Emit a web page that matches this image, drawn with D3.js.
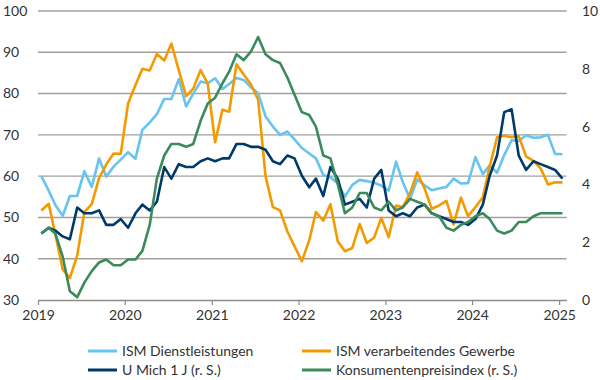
<!DOCTYPE html>
<html>
<head>
<meta charset="utf-8">
<script src="https://cdn.jsdelivr.net/npm/d3@7"></script>
<style>
  body { margin: 0; background: #fff; }
  text { font-family: Lato, "Open Sans", sans-serif; fill: #333; }
</style>
</head>
<body>
<svg id="chart" width="600" height="380"></svg>
<script>
// monthly values, first point plotted at Jan 2019
var ismServices = [60.0, 56.5, 53.0, 50.4, 55.2, 55.2, 61.2, 57.4, 64.3, 59.9, 62.3, 64.0,
  65.8, 64.2, 71.2, 73.0, 75.0, 78.7, 78.7, 83.5, 76.9, 80.0, 82.9, 82.5,
  83.7, 81.1, 82.3, 83.8, 83.3, 81.5, 80.1, 74.5, 72.0, 70.0, 70.8, 68.9,
  66.8, 65.5, 64.3, 60.3, 59.7, 58.3, 55.0, 57.9, 59.1, 58.8, 58.4, 57.7,
  56.5, 63.5, 58.6, 54.5, 59.2, 57.8, 56.6, 57.0, 57.4, 59.4, 58.2, 58.3,
  64.6, 60.5, 62.6, 60.8, 65.1, 68.7, 68.5, 69.9, 69.3, 69.4, 70.0, 65.4, 65.3];
var ismManufacturing = [51.7, 53.3, 45.9, 37.4, 35.3, 40.8, 51.3, 53.2, 59.5, 62.8, 65.5, 65.4,
  77.6, 82.1, 86.0, 85.6, 89.6, 88.0, 92.1, 85.7, 79.4, 81.2, 85.7, 82.4,
  68.2, 76.1, 75.6, 87.1, 84.6, 82.2, 78.5, 60.0, 52.5, 51.7, 46.6, 43.0,
  39.4, 44.5, 51.3, 49.2, 53.2, 44.2, 41.8, 42.6, 48.4, 43.8, 45.1, 49.9,
  45.2, 52.9, 52.5, 55.8, 60.9, 57.0, 52.1, 52.9, 54.0, 48.3, 54.8, 50.3,
  52.5, 54.9, 62.4, 69.4, 69.8, 69.4, 69.7, 64.8, 63.7, 61.9, 58.0, 58.5, 58.5];
var uMich1y = [2.3, 2.5, 2.4, 2.2, 2.1, 3.2, 3.0, 3.0, 3.1, 2.6, 2.6, 2.8,
  2.5, 3.0, 3.3, 3.1, 3.4, 4.6, 4.2, 4.7, 4.6, 4.6, 4.8, 4.9,
  4.8, 4.9, 4.9, 5.4, 5.4, 5.3, 5.3, 5.2, 4.8, 4.7, 5.0, 4.9,
  4.3, 3.9, 4.2, 3.6, 4.6, 4.2, 3.3, 3.4, 3.5, 3.2, 4.2, 4.5,
  3.1, 2.9, 3.0, 2.9, 3.2, 3.3, 3.0, 2.9, 2.8, 2.7, 2.7, 2.6,
  2.8, 3.3, 4.3, 5.0, 6.5, 6.6, 5.0, 4.5, 4.8, 4.7, 4.6, 4.5, 4.2];
var cpi = [2.3, 2.5, 2.3, 1.5, 0.3, 0.1, 0.6, 1.0, 1.3, 1.4, 1.2, 1.2,
  1.4, 1.4, 1.7, 2.6, 4.2, 5.0, 5.4, 5.4, 5.3, 5.4, 6.2, 6.8,
  7.0, 7.5, 7.9, 8.5, 8.3, 8.6, 9.1, 8.5, 8.3, 8.2, 7.7, 7.1,
  6.5, 6.4, 6.0, 5.0, 4.9, 4.0, 3.0, 3.2, 3.7, 3.7, 3.2, 3.1,
  3.4, 3.1, 3.2, 3.5, 3.4, 3.3, 3.0, 2.9, 2.5, 2.4, 2.6, 2.7,
  2.9, 3.0, 2.8, 2.4, 2.3, 2.4, 2.7, 2.7, 2.9, 3.0, 3.0, 3.0, 3.0];

var years = [2019, 2020, 2021, 2022, 2023, 2024, 2025];
var leftTicks = [30, 40, 50, 60, 70, 80, 90, 100];
var rightTicks = [0, 2, 4, 6, 8, 10];

var seriesNames = ["ISM Dienstleistungen", "ISM verarbeitendes Gewerbe", "U Mich 1 J (r. S.)", "Konsumentenpreisindex (r. S.)"];
var seriesColors = ["#66c4ef", "#f39a00", "#003a6a", "#3a8a5a"];

var svg = d3.select("#chart");
var plotLeft = 38, plotRight = 566.5, plotTop = 11, plotBottom = 300;
var fontSize = 14;

var x = d3.scaleTime()
  .domain([new Date(2019, 0, 1), new Date(2025, 1, 1)])
  .range([plotLeft, plotRight]);
var yL = d3.scaleLinear().domain([30, 100]).range([plotBottom, plotTop]);
var yR = d3.scaleLinear().domain([0, 10]).range([plotBottom, plotTop]);

function dateOf(i) { return new Date(2019, i, 15); }

// gridlines
svg.append("g").selectAll("line")
  .data(leftTicks.slice(1))
  .enter().append("line")
  .attr("x1", plotLeft).attr("x2", plotRight)
  .attr("y1", function(d) { return yL(d); })
  .attr("y2", function(d) { return yL(d); })
  .attr("stroke", "#a3a09a").attr("stroke-width", 1.4);

// x axis
var xAxis = d3.axisBottom(x)
  .tickValues(years.map(function(y) { return new Date(y, 0, 1); }))
  .tickFormat(d3.timeFormat("%Y"))
  .tickSize(5).tickSizeOuter(0).tickPadding(5);
var gx = svg.append("g").attr("transform", "translate(0," + plotBottom + ")").call(xAxis);
gx.select(".domain").attr("stroke", "#8f8c87").attr("stroke-width", 1.4);
gx.selectAll(".tick line").attr("stroke", "#8f8c87").attr("stroke-width", 1.2);
gx.selectAll("text").attr("font-size", fontSize).attr("fill", "#333")
  .attr("font-family", "Lato, sans-serif");

// y labels, left aligned on both sides
svg.append("g").selectAll("text")
  .data(leftTicks)
  .enter().append("text")
  .attr("x", 3).attr("y", function(d) { return yL(d); })
  .attr("dy", "0.35em").attr("font-size", fontSize)
  .text(function(d) { return d; });

svg.append("g").selectAll("text")
  .data(rightTicks)
  .enter().append("text")
  .attr("x", 582).attr("y", function(d) { return yR(d); })
  .attr("dy", "0.35em").attr("font-size", fontSize)
  .text(function(d) { return d; });

// lines
var lineL = d3.line()
  .x(function(d, i) { return x(dateOf(i)); })
  .y(function(d) { return yL(d); });
var lineR = d3.line()
  .x(function(d, i) { return x(dateOf(i)); })
  .y(function(d) { return yR(d); });

var series = [
  { values: ismServices, line: lineL },
  { values: ismManufacturing, line: lineL },
  { values: uMich1y, line: lineR },
  { values: cpi, line: lineR }
];
series.forEach(function(s, k) {
  svg.append("path")
    .attr("d", s.line(s.values))
    .attr("fill", "none")
    .attr("stroke", seriesColors[k])
    .attr("stroke-width", 2.6)
    .attr("stroke-linejoin", "round");
});

// legend
var legendPos = [[88, 351], [302, 351], [88, 370], [302, 370]];
seriesNames.forEach(function(name, k) {
  var p = legendPos[k];
  svg.append("line")
    .attr("x1", p[0]).attr("x2", p[0] + 29)
    .attr("y1", p[1]).attr("y2", p[1])
    .attr("stroke", seriesColors[k]).attr("stroke-width", 3);
  svg.append("text")
    .attr("x", p[0] + 34).attr("y", p[1])
    .attr("dy", "0.35em").attr("font-size", fontSize)
    .text(name);
});
</script>
</body>
</html>
